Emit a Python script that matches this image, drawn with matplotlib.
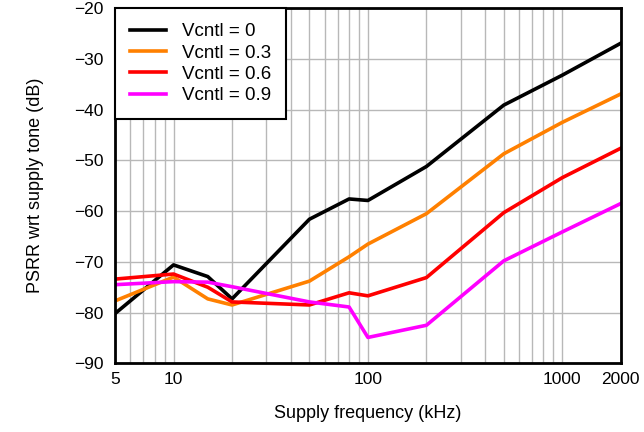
import matplotlib
matplotlib.use('Agg')
import matplotlib.pyplot as plt
from matplotlib.ticker import FixedLocator, LogLocator, NullFormatter

freq = [5, 10, 15, 20, 50, 80, 100, 200, 500, 1000, 2000]
psrr_v0 = [-80.2, -70.6, -72.9, -77.3, -61.6, -57.6, -57.9, -51.2, -39.1, -33.2, -26.9]
psrr_v03 = [-77.7, -73.0, -77.3, -78.5, -73.8, -69.0, -66.5, -60.5, -48.7, -42.5, -36.9]
psrr_v06 = [-73.4, -72.4, -75.0, -77.9, -78.5, -76.1, -76.7, -73.1, -60.3, -53.4, -47.6]
psrr_v09 = [-74.5, -73.9, -74.0, -74.9, -77.9, -78.9, -84.9, -82.5, -69.8, -64.1, -58.5]

labels = ['Vcntl = 0', 'Vcntl = 0.3', 'Vcntl = 0.6', 'Vcntl = 0.9']
colors = ['#000000', '#ff8000', '#ff0000', '#ff00ff']

x_ticks = [5, 10, 100, 1000, 2000]
y_ticks = [-90, -80, -70, -60, -50, -40, -30, -20]

plt.rcParams['font.family'] = ['Liberation Sans', 'DejaVu Sans']

fig = plt.figure(figsize=(6.44, 4.32), dpi=100)
ax = fig.add_axes([0.1786, 0.159, 0.7854, 0.822])

for ys, lab, c in zip([psrr_v0, psrr_v03, psrr_v06, psrr_v09], labels, colors):
    ax.plot(freq, ys, color=c, lw=2.6, label=lab)

ax.set_xscale('log')
ax.set_xlim(5, 2000)
ax.set_ylim(-90, -20)
ax.xaxis.set_major_locator(FixedLocator(x_ticks))
ax.xaxis.set_major_formatter(plt.FixedFormatter([str(t) for t in x_ticks]))
ax.xaxis.set_minor_locator(LogLocator(base=10, subs=range(1, 10), numticks=20))
ax.xaxis.set_minor_formatter(NullFormatter())
ax.set_yticks(y_ticks)
ax.set_yticklabels(['\u2212%d' % abs(t) for t in y_ticks])

ax.grid(True, which='both', axis='x', color='#b8b8b8', lw=1.0)
ax.grid(True, which='major', axis='y', color='#b8b8b8', lw=1.0)
ax.set_axisbelow(True)
ax.tick_params(which='both', length=0, labelsize=12.5)
ax.tick_params(axis='y', pad=8)
ax.tick_params(axis='x', pad=6)
for s in ax.spines.values():
    s.set_linewidth(2)

ax.set_xlabel('Supply frequency (kHz)', fontsize=13, labelpad=13)
ax.set_ylabel('PSRR wrt supply tone (dB)', fontsize=13, labelpad=22)

leg = ax.legend(loc='upper left', fontsize=13.5, frameon=True, fancybox=False,
                borderaxespad=0, handlelength=1.9, handletextpad=0.85,
                borderpad=0.8, labelspacing=0.22)
leg.get_frame().set_edgecolor('black')
leg.get_frame().set_linewidth(1.5)
leg.get_frame().set_alpha(1)

fig.savefig('out.png', dpi=100)
